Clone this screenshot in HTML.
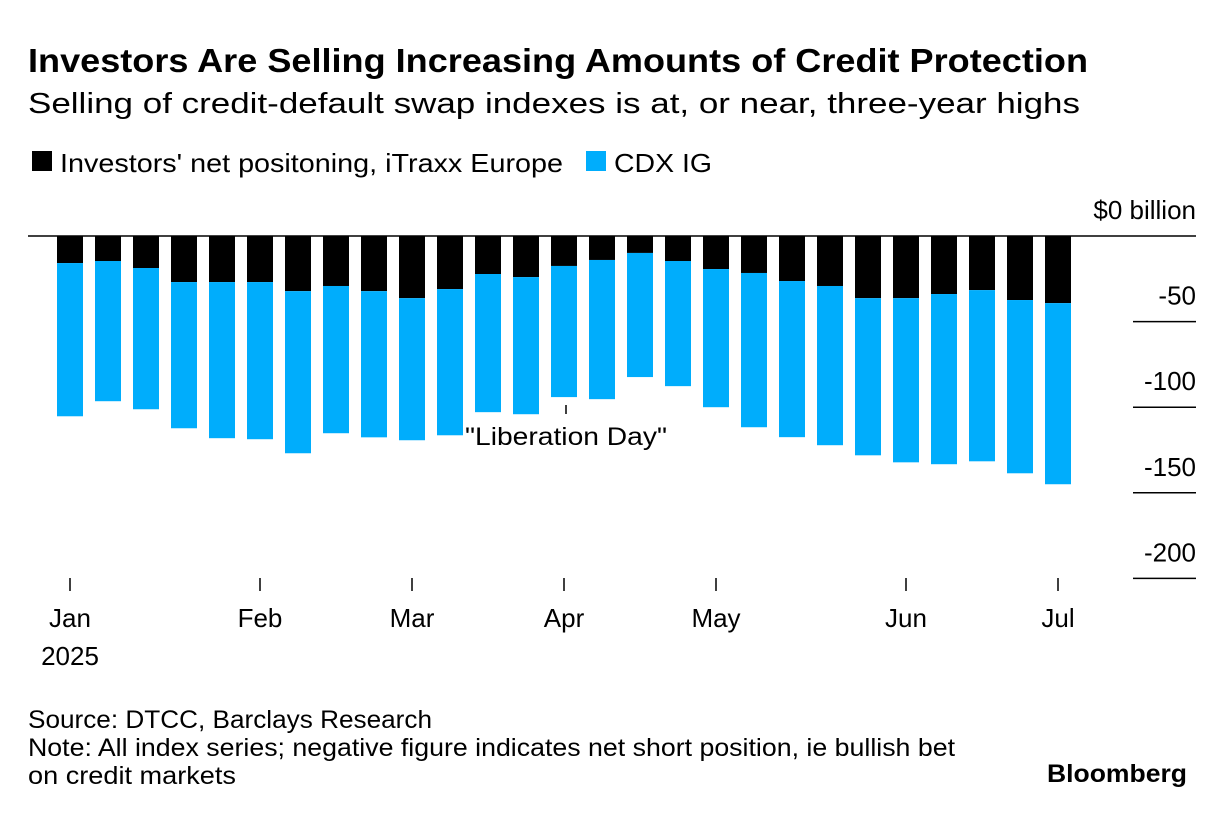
<!DOCTYPE html>
<html><head><meta charset="utf-8"><style>
body{margin:0;width:1225px;height:818px;background:#fff;font-family:"Liberation Sans",sans-serif;overflow:hidden}
svg text{font-family:"Liberation Sans",sans-serif}
</style></head><body>
<svg width="1225" height="818">
<text x="28" y="72" font-size="33" font-weight="bold" textLength="1060" lengthAdjust="spacingAndGlyphs">Investors Are Selling Increasing Amounts of Credit Protection</text>
<text x="28" y="113" font-size="29" textLength="1052" lengthAdjust="spacingAndGlyphs">Selling of credit-default swap indexes is at, or near, three-year highs</text>
<rect x="32" y="151" width="20" height="20" fill="#000"/>
<text x="60" y="172" font-size="26" textLength="503" lengthAdjust="spacingAndGlyphs">Investors' net positoning, iTraxx Europe</text>
<rect x="586" y="151" width="20" height="20" fill="#00adfc"/>
<text x="614" y="172" font-size="26" textLength="98" lengthAdjust="spacingAndGlyphs">CDX IG</text>
<g id="bars"></g>
<g id="axis"></g>
<line x1="566" y1="405" x2="566" y2="414" stroke="#000" stroke-width="1.5"/>
<text x="566" y="445" font-size="25" text-anchor="middle" textLength="202" lengthAdjust="spacingAndGlyphs">"Liberation Day"</text>
<text x="28" y="728" font-size="25" textLength="404" lengthAdjust="spacingAndGlyphs">Source: DTCC, Barclays Research</text>
<text x="28" y="756" font-size="25" textLength="927" lengthAdjust="spacingAndGlyphs">Note: All index series; negative figure indicates net short position, ie bullish bet</text>
<text x="28" y="784" font-size="25" textLength="208" lengthAdjust="spacingAndGlyphs">on credit markets</text>
<text x="1187" y="782" font-size="25" font-weight="bold" text-anchor="end" textLength="140" lengthAdjust="spacingAndGlyphs">Bloomberg</text>
</svg>
<script>
const itraxx=[-15.8,-14.6,-18.7,-26.9,-26.9,-26.9,-32.2,-29.2,-32.2,-36.3,-31.0,-22.2,-24.0,-17.5,-14.0,-9.9,-14.6,-19.3,-21.6,-26.3,-29.2,-36.3,-36.3,-33.9,-31.6,-37.4,-39.2];
const cdx=[-89.5,-81.9,-82.5,-85.4,-91.2,-91.8,-94.7,-86.0,-85.4,-83.0,-85.4,-80.7,-80.1,-76.6,-81.3,-72.5,-73.1,-80.7,-90.1,-91.2,-93.0,-91.8,-95.9,-99.4,-100.0,-101.2,-105.8];
const yTicks=[0,-50,-100,-150,-200];
const yTickLabels=["$0 billion","-50","-100","-150","-200"];
const monthIdx=[0,5,9,13,17,22,26];
const monthLabels=["Jan","Feb","Mar","Apr","May","Jun","Jul"];
const NS="http://www.w3.org/2000/svg";
const y=v=>236-v*1.712;
const x=i=>57+i*38;
const bw=26;
function mk(t,a,p){const e=document.createElementNS(NS,t);for(const k in a)e.setAttribute(k,a[k]);p.appendChild(e);return e;}
const bars=document.getElementById('bars'),axis=document.getElementById('axis');
itraxx.forEach((v,i)=>{
  const b=mk('rect',{x:x(i),y:y(0),width:bw,height:y(v)-y(0),fill:'#000'},bars);
  
  
  const c=mk('rect',{x:x(i),y:y(v),width:bw,height:y(v+cdx[i])-y(v),fill:'#00adfc'},bars);
  
  
});
yTicks.forEach((t,i)=>{
  const l=mk('line',{x1:t===0?28:1133,x2:1196,y1:y(t),y2:y(t),stroke:'#000','stroke-width':1.5},axis);
  
  
  const tx=mk('text',{x:1196,y:y(t)-17,'font-size':26,'text-anchor':'end'},axis);
  tx.textContent=yTickLabels[i];
  
  
});
monthIdx.forEach((m,i)=>{
  const cx=x(m)+bw/2;
  const l=mk('line',{x1:cx,x2:cx,y1:578,y2:591,stroke:'#000','stroke-width':1.5},axis);
  
  
  const tx=mk('text',{x:cx,y:627,'font-size':26,'text-anchor':'middle'},axis);
  tx.textContent=monthLabels[i];
  
  
});
const yr=mk('text',{x:70,y:665,'font-size':26,'text-anchor':'middle'},axis);
yr.textContent='2025';


</script>
</body></html>
